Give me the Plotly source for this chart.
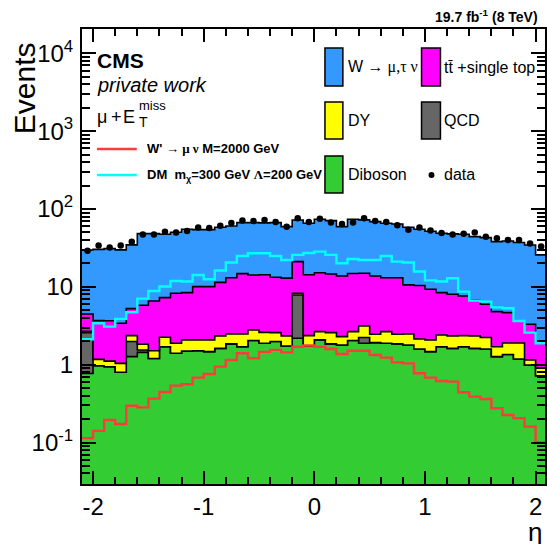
import numpy as np
import plotly.graph_objects as go

# eta binning: 42 bins of width 0.1 between -2.1 and 2.1
eta_edges = np.round(np.linspace(-2.1, 2.1, 43), 2)
eta_centres = np.round(eta_edges[:-1] + 0.05, 3)

# expected yields per bin (stacked from bottom to top)
diboson = [0.77, 0.97, 0.94, 0.80, 1.27, 1.44, 1.20, 1.70, 1.40, 1.50, 1.51, 1.47, 1.62, 1.85,
           1.70, 2.04, 1.88, 1.98, 1.74, 2.18, 1.74, 2.08, 1.85, 1.79, 2.04, 1.88, 1.92, 1.88,
           1.85, 1.79, 1.59, 1.47, 1.70, 1.62, 1.70, 1.62, 1.59, 1.27, 1.35, 1.18, 0.99, 0.72]
qcd = [1.81, 0, 0, 0, 0.71, 0.10, 0, 0, 0, 0, 0, 0, 0, 0,
       0, 0, 0, 0, 0, 5.68, 0, 0, 0, 0, 0, 0.35, 0, 0,
       0, 0, 0, 0, 0, 0, 0, 0, 0, 0, 0, 0, 0, 0]
drell_yan = [0.10, 0.20, 0.17, 0.24, 0.38, 0.29, 0.31, 0.55, 0.48, 0.58, 0.57, 0.61, 0.72, 0.63,
             0.78, 0.75, 0.72, 0.60, 0.60, 0.40, 0.62, 0.58, 0.73, 0.50, 0.62, 0.91, 0.54, 0.78,
             0.61, 0.69, 0.55, 0.61, 0.71, 0.72, 0.66, 0.72, 0.64, 0.43, 0.55, 0.72, 0.16, 0.18]
ttbar_top = [1.80, 2.51, 2.56, 2.36, 2.89, 3.96, 5.07, 5.01, 6.38, 6.34, 7.98, 7.98, 9.06, 10.6,
             12.3, 11.4, 11.7, 10.7, 10.6, 12.8, 11.9, 12.5, 12.0, 11.5, 12.2, 11.8, 11.3, 10.4,
             10.6, 8.12, 8.26, 7.22, 6.01, 5.68, 5.27, 4.44, 3.74, 3.10, 2.76, 1.74, 2.15, 1.02]
w_jets = [25.3, 26.6, 27.3, 26.4, 29.3, 42.5, 41.7, 40.0, 41.9, 46.4, 44.2, 44.2, 46.8, 47.4,
          52.0, 52.6, 51.9, 53.5, 46.4, 51.2, 51.2, 58.5, 56.3, 45.5, 58.8, 57.4, 55.0, 52.4,
          51.1, 47.6, 44.4, 42.4, 40.3, 39.8, 39.7, 37.4, 36.9, 33.3, 34.1, 33.4, 31.2, 23.8]

# observed events
data = [29, 34, 32, 34, 38, 47, 47, 51, 50, 52, 58, 57, 61, 66,
        71, 70, 72, 68, 59, 76, 68, 75, 67, 64, 67, 76, 70, 68,
        62, 54, 58, 53, 49, 47, 48, 50, 44, 42, 40, 40, 36, 33]

# signal hypotheses (not stacked)
wprime_2000 = [0.114, 0.141, 0.195, 0.173, 0.297, 0.283, 0.366, 0.446, 0.538, 0.560, 0.681, 0.760,
               0.943, 1.15, 1.40, 1.21, 1.46, 1.55, 1.44, 1.70, 1.76, 1.70, 1.59, 1.37, 1.51,
               1.51, 1.33, 1.23, 1.07, 1.04, 0.775, 0.681, 0.617, 0.605, 0.442, 0.388, 0.362,
               0.275, 0.226, 0.205, 0.160, 0.101]
dm_300_200 = [2.12, 3.40, 3.08, 3.87, 4.71, 7.05, 8.85, 10.1, 11.9, 11.7, 14.2, 12.5, 16.2, 20.5,
              24.9, 27.0, 27.0, 24.9, 22.1, 25.7, 27.2, 28.3, 25.7, 20.1, 22.8, 22.1, 22.1, 24.9,
              21.1, 20.5, 15.7, 12.1, 11.7, 12.9, 8.68, 6.65, 6.46, 5.45, 5.30, 3.64, 2.58, 1.88]

backgrounds = [
    ("Diboson", diboson, "#33cc33"),
    ("QCD", qcd, "#666666"),
    ("DY", drell_yan, "#ffff00"),
    ("tt\u0304 +single top", ttbar_top, "#ff00ff"),
    ("W \u2192 \u03bc,\u03c4 \u03bd", w_jets, "#3399ff"),
]

FONT = "Liberation Sans"
W, H = 547, 544
L, R, T, B = 82, 0, 29, 60


def px(x):
    return (x - L) / (W - L - R)


def py(y):
    return (H - B - y) / (H - T - B)


def steps(values):
    return list(values) + [values[-1]]


fig = go.Figure()

# invisible floor for the first filled layer
fig.add_trace(go.Scatter(x=eta_edges, y=[1e-4] * len(eta_edges), mode="lines",
                         line=dict(width=0), hoverinfo="skip"))

cumulative = np.zeros(len(eta_centres))
for name, values, colour in backgrounds:
    cumulative = cumulative + np.array(values)
    fig.add_trace(go.Scatter(
        x=eta_edges, y=steps(cumulative), name=name, mode="lines",
        line=dict(shape="hv", color="black", width=1.6),
        fill="tonexty", fillcolor=colour))

fig.add_trace(go.Scatter(x=eta_edges, y=steps(wprime_2000), mode="lines",
                         line=dict(shape="hv", color="#ff3b3b", width=2.4)))
fig.add_trace(go.Scatter(x=eta_edges, y=steps(dm_300_200), mode="lines",
                         line=dict(shape="hv", color="#00ffff", width=2.4)))
fig.add_trace(go.Scatter(x=eta_centres, y=data, mode="markers",
                         marker=dict(color="black", size=6.5)))

minor_y = [m * 10.0 ** d for d in range(-2, 5) for m in range(2, 10)]

fig.update_layout(
    width=W, height=H, margin=dict(l=L, r=R, t=T, b=B),
    plot_bgcolor="white", paper_bgcolor="white", showlegend=False,
    font=dict(family=FONT, color="black"),
    xaxis=dict(range=[-2.1, 2.085], tickvals=[-2, -1, 0, 1, 2],
               ticktext=["-2", "-1", "0", "1", "2"], tickfont=dict(size=24),
               ticks="inside", ticklen=13, tickwidth=1.5, tickcolor="black",
               showline=True, linewidth=2, linecolor="black", mirror="ticks",
               showgrid=False, zeroline=False,
               minor=dict(ticks="inside", ticklen=7, tickwidth=1.5, tickcolor="black",
                          dtick=0.2, tick0=0, showgrid=False)),
    yaxis=dict(type="log", range=[-1.533, 4.312],
               tickvals=[0.1, 1, 10, 100, 1000, 10000],
               ticktext=["10<sup>-1</sup>", "1", "10", "10<sup>2</sup>",
                         "10<sup>3</sup>", "10<sup>4</sup>"],
               tickfont=dict(size=24), ticks="inside", ticklen=14, tickwidth=1.5,
               tickcolor="black", showline=True, linewidth=2, linecolor="black",
               mirror="ticks", showgrid=False, zeroline=False, ticklabelstandoff=2,
               minor=dict(ticks="inside", ticklen=8, tickwidth=1.5, tickcolor="black",
                          tickvals=minor_y, showgrid=False)),
)

ann = []


def text(x, y, s, size, xanchor="left", yanchor="middle", **kw):
    ann.append(dict(x=px(x), y=py(y), xref="paper", yref="paper", text=s, showarrow=False,
                    xanchor=xanchor, yanchor=yanchor, font=dict(size=size, family=FONT,
                                                                color="black"), **kw))


# axis titles
text(24, 40, "Events", 30, xanchor="center", yanchor="top", textangle=-90)
text(546, 532, "\u03b7", 26, xanchor="right")

# labels
text(542, 16, "<b>19.7 fb<sup>-1</sup> (8 TeV)</b>", 14, xanchor="right")
text(95, 61, "<b>CMS</b>", 21)
text(95, 85, "<i>private work</i>", 20)
text(95, 117, "\u03bc", 18)
text(109, 117, "+", 18)
text(121, 117, "E", 18)
text(137, 106, "miss", 13)
text(137, 122, "T", 14)

# legend: stacked backgrounds and data
sym = "<span style='font-family:Liberation Serif'>"
legend_rows = [
    (48, 86, "#3399ff", "W " + sym + "\u2192 \u03bc,\u03c4 \u03bd</span>",
     "#ff00ff", "tt\u0304 +single top"),
    (102, 139, "#ffff00", "DY", "#666666", "QCD"),
    (156, 193, "#33cc33", "Diboson", None, "data"),
]
shapes = []
for top, bottom, c1, t1, c2, t2 in legend_rows:
    mid = (top + bottom) / 2
    shapes.append(dict(type="rect", xref="paper", yref="paper", x0=px(326), x1=px(344),
                       y0=py(bottom), y1=py(top), fillcolor=c1,
                       line=dict(color="black", width=1.5)))
    text(347, mid, t1, 16)
    if c2 is not None:
        shapes.append(dict(type="rect", xref="paper", yref="paper", x0=px(423), x1=px(442),
                           y0=py(bottom), y1=py(top), fillcolor=c2,
                           line=dict(color="black", width=1.5)))
    else:
        shapes.append(dict(type="circle", xref="paper", yref="paper", x0=px(430), x1=px(436),
                           y0=py(178), y1=py(172), fillcolor="black",
                           line=dict(color="black", width=0)))
    text(444, mid, t2, 16)

# legend: signal lines
shapes.append(dict(type="line", xref="paper", yref="paper", x0=px(97), x1=px(137),
                   y0=py(149), y1=py(149), line=dict(color="#ff3b3b", width=2.4)))
shapes.append(dict(type="line", xref="paper", yref="paper", x0=px(97), x1=px(137),
                   y0=py(175), y1=py(175), line=dict(color="#00ffff", width=2.4)))
text(145, 149, "<b>W' " + sym + "\u2192 \u03bc \u03bd</span> M=2000 GeV</b>", 13)
text(145, 175, "<b>DM  m<sub>\u03c7</sub>=300 GeV " + sym + "\u039b</span>=200 GeV</b>", 13)

fig.update_layout(annotations=ann, shapes=shapes)
fig.write_html("out.html")
